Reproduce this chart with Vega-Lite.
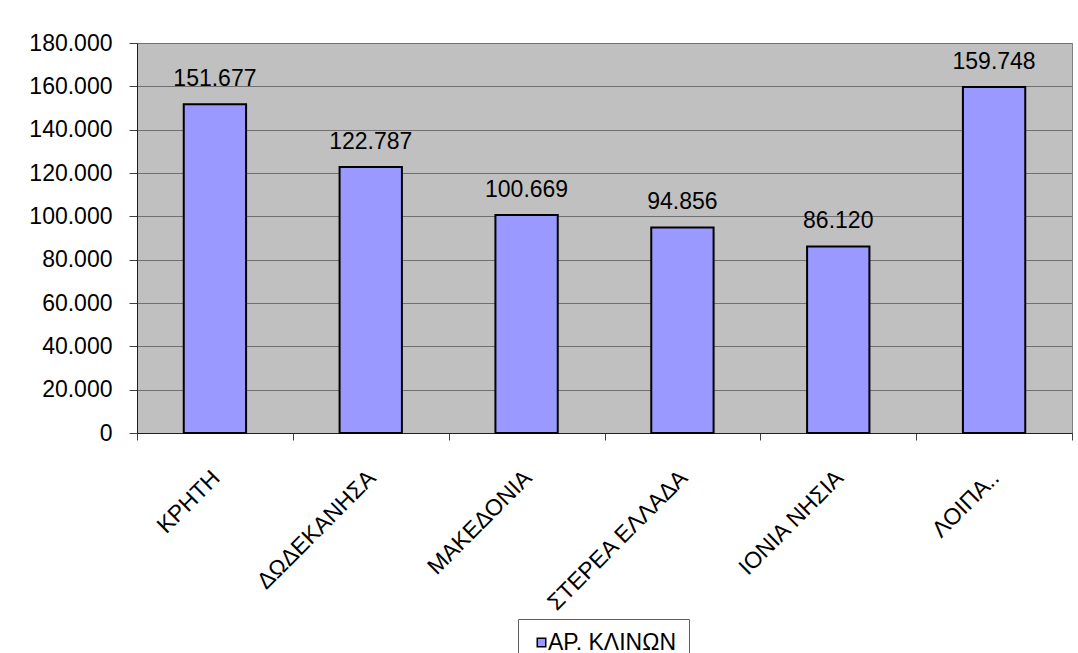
{
  "$schema": "https://vega.github.io/schema/vega-lite/v6.json",
  "width": 935,
  "height": 390,
  "autosize": {"type": "none"},
  "padding": {"left": 137, "top": 43, "right": 6, "bottom": 220},
  "background": "white",
  "config": {
    "locale": {"number": {"decimal": ",", "thousands": ".", "grouping": [3], "currency": ["", " €"]}},
    "font": "Liberation Sans",
    "view": {"fill": "#C0C0C0", "stroke": "#808080", "strokeWidth": 1}
  },
  "data": {
    "values": [
      {"region": "ΚΡΗΤΗ", "beds": 151677},
      {"region": "ΔΩΔΕΚΑΝΗΣΑ", "beds": 122787},
      {"region": "ΜΑΚΕΔΟΝΙΑ", "beds": 100669},
      {"region": "ΣΤΕΡΕΑ ΕΛΛΑΔΑ", "beds": 94856},
      {"region": "ΙΟΝΙΑ ΝΗΣΙΑ", "beds": 86120},
      {"region": "ΛΟΙΠΑ..", "beds": 159748}
    ]
  },
  "encoding": {
    "x": {
      "field": "region",
      "type": "nominal",
      "sort": null,
      "scale": {"paddingInner": 0, "paddingOuter": 0},
      "axis": {
        "title": null,
        "labelAngle": -45,
        "labelAlign": "right",
        "labelBaseline": "middle",
        "labelFontSize": 23,
        "labelColor": "black",
        "labelPadding": 34,
        "labelOffset": 1,
        "labelLimit": 0,
        "labelOverlap": false,
        "tickBand": "extent",
        "tickSize": 7,
        "tickColor": "#404040",
        "domainColor": "#202020",
        "grid": false
      }
    },
    "y": {
      "field": "beds",
      "type": "quantitative",
      "scale": {"domain": [0, 180000], "nice": false},
      "axis": {
        "title": null,
        "values": [0, 20000, 40000, 60000, 80000, 100000, 120000, 140000, 160000, 180000],
        "format": ",d",
        "labelFontSize": 23,
        "labelColor": "black",
        "labelPadding": 17,
        "tickSize": 8,
        "tickColor": "#404040",
        "domainColor": "#202020",
        "grid": true,
        "gridColor": "#707070",
        "gridOpacity": 1
      }
    }
  },
  "layer": [
    {
      "mark": {"type": "bar", "width": {"band": 0.4}, "stroke": "black", "strokeWidth": 2},
      "encoding": {
        "fill": {
          "datum": "ΑΡ. ΚΛΙΝΩΝ",
          "type": "nominal",
          "scale": {"range": ["#9999FF"]},
          "legend": {
            "title": null,
            "orient": "none",
            "legendX": 381,
            "legendY": 576,
            "symbolType": "square",
            "symbolSize": 72,
            "symbolStrokeColor": "black",
            "symbolStrokeWidth": 1.5,
            "symbolFillColor": "#9999FF",
            "labelFontSize": 23,
            "labelColor": "black",
            "labelOffset": -5,
            "strokeColor": "#606060",
            "fillColor": "white",
            "padding": 12
          }
        }
      }
    },
    {
      "mark": {"type": "text", "baseline": "alphabetic", "dy": -18, "fontSize": 23, "color": "black"},
      "encoding": {
        "text": {"field": "beds", "type": "quantitative", "format": ",d"}
      }
    }
  ]
}
